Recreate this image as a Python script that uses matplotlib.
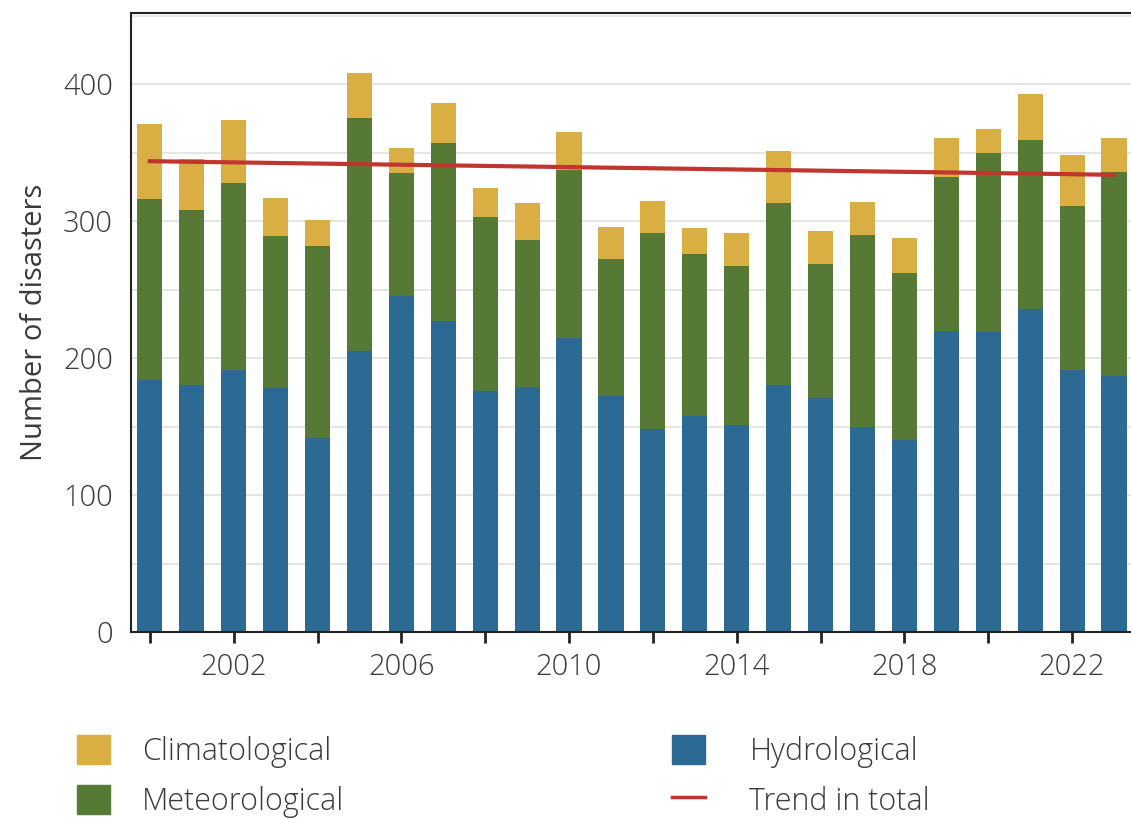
import numpy as np
import matplotlib
matplotlib.use('Agg')
import matplotlib.pyplot as plt
from matplotlib.patches import Patch
from matplotlib.lines import Line2D
from matplotlib.ticker import MultipleLocator

# Disaster counts per year
years = list(range(2000, 2024))
hydrological = [184, 180, 191, 178, 142, 205, 245, 227, 176, 179, 215, 172,
                148, 158, 151, 180, 171, 150, 140, 220, 219, 236, 191, 187]
meteorological = [132, 128, 137, 111, 140, 170, 90, 130, 127, 107, 122, 100,
                  143, 118, 116, 133, 98, 140, 122, 112, 131, 123, 120, 149]
climatological = [55, 37, 46, 28, 19, 33, 18, 29, 21, 27, 28, 24,
                  24, 19, 24, 38, 24, 24, 26, 29, 17, 34, 37, 25]

blue = '#2c6a93'
green = '#567a35'
yellow = '#d9ae42'
red = '#c0352d'

plt.rcParams['font.family'] = ['Open Sans', 'DejaVu Sans']
plt.rcParams['font.weight'] = 300
text_color = '#3a3a3a'

fig = plt.figure(figsize=(11.31, 8.19), dpi=100)
ax = fig.add_axes([0.1158, 0.2283, 0.884, 0.756])

x = np.array(years)
hyd = np.array(hydrological)
met = np.array(meteorological)
cli = np.array(climatological)
total = hyd + met + cli

ax.bar(x, hyd, width=0.6, color=blue, zorder=2)
ax.bar(x, met, width=0.6, bottom=hyd, color=green, zorder=2)
ax.bar(x, cli, width=0.6, bottom=hyd + met, color=yellow, zorder=2)

# Linear trend in total
coef = np.polyfit(x, total, 1)
ax.plot(x, np.polyval(coef, x), color=red, lw=3, zorder=3)

ax.set_xlim(1999.55, 2023.4)
ax.set_ylim(0, 452)

ax.yaxis.set_major_locator(MultipleLocator(100))
ax.yaxis.set_minor_locator(MultipleLocator(50))
ax.grid(axis='y', which='both', color='#e0e0e0', lw=1.2, zorder=0)
ax.tick_params(axis='y', which='both', length=0, labelsize=21,
               labelcolor=text_color, pad=13)

ax.set_xticks([2002, 2006, 2010, 2014, 2018, 2022])
ax.set_xticks([2000, 2004, 2008, 2012, 2016, 2020], minor=True)
ax.tick_params(axis='x', which='both', length=8, width=2, color='#222222',
               labelsize=21, labelcolor=text_color, pad=7)

for side in ['left', 'bottom', 'top']:
    ax.spines[side].set_color('#222222')
    ax.spines[side].set_linewidth(1.5)
ax.spines['right'].set_visible(False)

ax.set_ylabel('Number of disasters', fontsize=21, color=text_color, labelpad=10)

# Legend in two columns under the chart
h1 = [Patch(color=yellow), Patch(color=green)]
h2 = [Patch(color=blue), Line2D([], [], color=red, lw=2.5)]
kw = dict(frameon=False, fontsize=22, handlelength=1.08, handleheight=1.08,
          labelspacing=0.55, handletextpad=1.05, labelcolor=text_color,
          loc='upper left')
fig.legend(h1, ['Climatological', 'Meteorological'],
           bbox_to_anchor=(0.044, 0.136), **kw)
fig.legend(h2, ['Hydrological', 'Trend in total'],
           bbox_to_anchor=(0.570, 0.136), **dict(kw, handletextpad=1.45))

fig.savefig('out.png', dpi=100)
